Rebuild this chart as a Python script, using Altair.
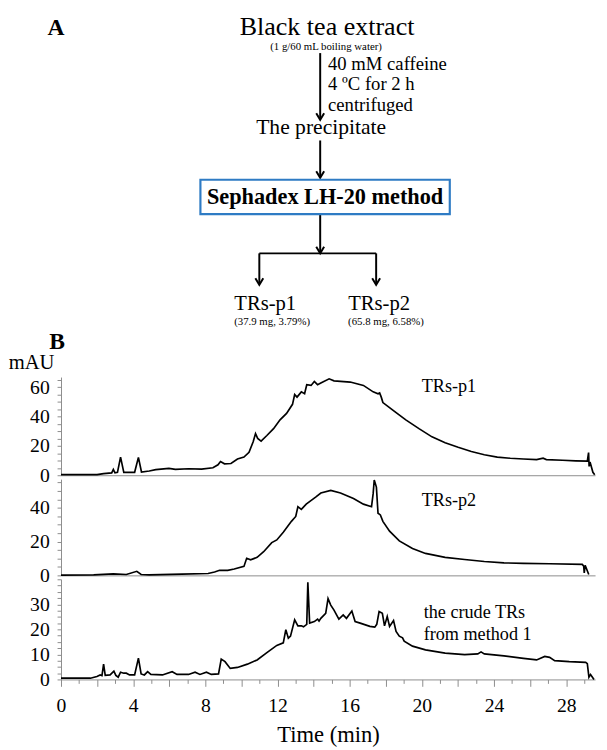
import altair as alt
import pandas as pd

FONT = "Liberation Serif"
GRAY = "#8c8c8c"
BLUE = "#2e7bc4"

# ---------------- chromatogram data (time in min, signal in mAU) ----------------
p1_time = [0, 2.0, 2.36, 2.81, 2.9, 2.99, 3.13, 3.3, 3.48, 4.08, 4.29, 4.46, 4.89, 5.25, 5.98, 6.34,
           7.07, 7.79, 8.42, 8.7, 8.84, 9.06, 9.42, 9.78, 10.14, 10.42, 10.65, 10.78, 10.9, 11.09,
           11.41, 11.78, 12.14, 12.5, 12.83, 12.95, 13.08, 13.32, 13.5, 13.62, 13.86, 14.04, 14.22,
           14.4, 14.86, 15.13, 16.03, 16.76, 17.3, 17.57, 17.66, 17.75, 17.84, 18.39, 19.11, 19.84,
           20.56, 21.29, 22.01, 22.74, 23.46, 24.18, 24.9, 25.63, 26.36, 26.72, 26.9, 27.8, 28.53,
           29.17, 29.24, 29.27, 29.32, 29.48, 29.58]
p1_mau = [0.4, 0.4, 1.1, 1.6, 4.0, 1.6, 2.0, 12.4, 2.0, 2.0, 12.2, 2.2, 2.9, 3.8, 4.7, 4.0,
          4.4, 4.2, 5.1, 7.1, 9.3, 7.8, 8.0, 11.1, 12.4, 15.6, 22.9, 28.4, 25.1, 23.3,
          27.1, 31.8, 37.8, 42.2, 48.4, 55.1, 53.3, 56.9, 55.6, 61.8, 61.3, 64.0, 61.8,
          62.9, 65.8, 64.4, 63.6, 61.3, 56.9, 55.6, 56.2, 53.3, 49.6, 44.4, 37.8, 31.8,
          26.2, 22.2, 19.1, 16.2, 14.0, 12.4, 11.6, 11.1, 10.7, 11.6, 10.7, 10.2, 9.8,
          9.6, 15.5, 6.0, 9.0, 2.0, 0.3]

p2_time = [0, 1.81, 2.9, 3.62, 4.2, 4.44, 4.89, 6.7, 8.15, 8.51, 8.79, 9.24, 9.6, 10.14, 10.29,
           10.51, 10.87, 11.23, 11.68, 11.96, 12.32, 12.77, 13.01, 13.13, 13.32, 13.59, 14.13,
           14.4, 14.95, 15.49, 16.21, 16.76, 17.21, 17.3, 17.36, 17.48, 17.57, 17.7, 17.84, 18.21,
           18.75, 19.48, 20.2, 21.29, 22.37, 23.46, 24.55, 25.63, 27.08, 28.89, 28.97, 29.0,
           29.05, 29.25]
p2_mau = [0.1, 0.3, 0.9, 0.5, 2.4, 0.5, 0.3, 0.7, 1.1, 2.0, 3.0, 3.0, 3.8, 5.3, 10.1,
          9.2, 10.7, 14.0, 19.4, 21.0, 25.6, 32.0, 34.9, 40.7, 39.1, 42.2, 46.5,
          48.8, 50.3, 48.8, 45.5, 42.2, 40.7, 48.4, 56.5, 52.3, 36.8, 35.8, 32.0, 26.2,
          20.4, 15.9, 13.0, 10.7, 9.4, 8.2, 7.4, 7.1, 6.9, 6.5, 5.5, 1.5,
          6.0, 0.5]

p3_time = [0, 1.63, 1.99, 2.17, 2.27, 2.36, 2.45, 2.72, 2.93, 3.04, 3.17, 3.3, 3.48, 3.62, 3.8,
           4.08, 4.29, 4.44, 4.62, 4.8, 4.98, 5.62, 6.16, 6.43, 7.07, 7.43, 7.7, 8.06, 8.33, 8.73,
           8.88, 9.09, 9.38, 9.78, 10.33, 10.87, 11.41, 11.96, 12.32, 12.46, 12.6, 12.72, 12.95,
           13.13, 13.32, 13.44, 13.62, 13.68, 13.78, 14.04, 14.22, 14.3, 14.4, 14.67, 14.8, 14.95,
           15.13, 15.4, 15.64, 15.82, 16.12, 16.3, 16.58, 17.12, 17.39, 17.5, 17.63, 17.81, 17.93,
           18.08, 18.21, 18.43, 18.57, 18.75, 18.93, 19.02, 19.48, 20.2, 21.29, 22.37, 23.1, 23.28,
           23.46, 24.55, 25.63, 26.36, 26.81, 27.08, 27.36, 28.17, 29.08, 29.17, 29.26, 29.35, 29.54]
p3_mau = [0.5, 0.5, 1.2, 1.8, 1.5, 6.1, 1.6, 1.8, 3.3, 1.6, 0.9, 2.9, 2.5, 2.5, 1.8,
          1.8, 8.5, 2.2, 1.8, 3.1, 2.0, 1.8, 3.1, 2.0, 2.0, 2.9, 2.0, 2.9, 2.0, 2.2,
          8.1, 7.1, 4.4, 4.8, 6.1, 7.8, 10.7, 13.6, 14.6, 19.9, 16.5, 17.3, 23.8,
          21.4, 21.4, 21.0, 22.0, 38.8, 22.5, 23.1, 24.1, 23.3, 24.4, 26.4, 32.3, 29.7,
          27.7, 24.1, 25.8, 24.4, 27.3, 23.1, 22.5, 21.2, 20.9, 22.0, 27.1, 26.4, 21.4,
          25.1, 21.2, 23.5, 19.2, 17.3, 16.6, 15.3, 13.3, 11.8, 10.5, 9.9, 10.2, 11.0,
          10.2, 9.4, 8.4, 7.8, 9.2, 8.8, 7.5, 7.1, 6.8, 6.3, 0.9, 2.0, 0.0]

# tick labels
p1_labels = [0, 20, 40, 60]
p2_labels = [0, 20, 40]
p3_labels = [0, 10, 20, 30]
x_labels = [0, 4, 8, 12, 16, 20, 24, 28]

# ---------------- flowchart content ----------------
flow_plain = [
    ("Black tea extract", 331, 28, 26.5, "center"),
    ("(1 g/60 mL boiling water)", 330, 43, 11, "center"),
    ("40 mM caffeine", 332, 63, 19, "left"),
    ("4 \u00baC for 2 h", 332, 84, 19, "left"),
    ("centrifuged", 332, 105, 19, "left"),
    ("The precipitate", 325, 128, 22, "center"),
    ("TRs-p1", 268, 308, 21, "center"),
    ("TRs-p2", 384, 308, 21, "center"),
    ("(37.9 mg, 3.79%)", 275, 323, 11, "center"),
    ("(65.8 mg, 6.58%)", 391, 323, 11, "center"),
    ("mAU", 30, 368, 21, "center"),
]
flow_bold = [
    ("A", 55, 28, 24),
    ("B", 56, 347, 24),
    ("Sephadex LH-20 method", 329, 200, 22.7),
]
flow_lines = [  # x, y, x2, y2
    (324, 46, 324, 113),
    (324, 135, 324, 172),
    (324, 210, 324, 249),
    (262, 250, 381, 250),
    (262, 250, 262, 281),
    (381, 250, 381, 281),
]
flow_heads = [(324, 114), (324, 173), (324, 250), (262, 282), (381, 282)]
flow_box = [(202, 175, 456, 210)]

W = 544
XDOM = [0, 29.6]

fx = alt.Scale(domain=[60, 604], nice=False, zero=False)
fy = alt.Scale(domain=[8, 372], nice=False, zero=False, reverse=True)

layers = []
for (txt, x, y, size, align) in flow_plain:
    d = pd.DataFrame({"x": [x], "y": [y], "t": [txt]})
    layers.append(
        alt.Chart(d).mark_text(font=FONT, fontSize=size, align=align, baseline="alphabetic", color="black")
        .encode(x=alt.X("x:Q", scale=fx, axis=None), y=alt.Y("y:Q", scale=fy, axis=None), text="t:N")
    )
for (txt, x, y, size) in flow_bold:
    d = pd.DataFrame({"x": [x], "y": [y], "t": [txt]})
    layers.append(
        alt.Chart(d).mark_text(font=FONT, fontSize=size, fontWeight="bold", align="center",
                               baseline="alphabetic", color="black")
        .encode(x=alt.X("x:Q", scale=fx, axis=None), y=alt.Y("y:Q", scale=fy, axis=None), text="t:N")
    )
ldf = pd.DataFrame(flow_lines, columns=["x", "y", "x2", "y2"])
layers.append(
    alt.Chart(ldf).mark_rule(color="black", strokeWidth=2)
    .encode(x=alt.X("x:Q", scale=fx, axis=None), y=alt.Y("y:Q", scale=fy, axis=None), x2="x2:Q", y2="y2:Q")
)
hdf = pd.DataFrame(flow_heads, columns=["x", "y"])
layers.append(
    alt.Chart(hdf).mark_point(shape="M -0.6 -1 L 0 0 L 0.6 -1", size=180, filled=False,
                              color="black", strokeWidth=2, opacity=1)
    .encode(x=alt.X("x:Q", scale=fx, axis=None), y=alt.Y("y:Q", scale=fy, axis=None))
)
bdf = pd.DataFrame(flow_box, columns=["x", "y", "x2", "y2"])
layers.append(
    alt.Chart(bdf).mark_rect(fillOpacity=0, stroke=BLUE, strokeWidth=2.2)
    .encode(x=alt.X("x:Q", scale=fx, axis=None), y=alt.Y("y:Q", scale=fy, axis=None), x2="x2:Q", y2="y2:Q")
)
flow = alt.layer(*layers).properties(width=W, height=364)


def panel(times, vals, ymax, h, ystep, ylabels, labels, bottom):
    df = pd.DataFrame({"t": times, "v": vals})
    xs = alt.Scale(domain=XDOM, nice=False, zero=False)
    ys = alt.Scale(domain=[0, ymax], nice=False, zero=True)
    nt = int(ymax // ystep) + 1
    yticks = [round(i * ystep, 3) for i in range(nt)]
    yaxis = alt.Axis(values=yticks, format="d",
                     labelExpr=f"indexof({ylabels}, datum.value) >= 0 ? datum.label : ''",
                     tickSize=4, tickColor=GRAY, domainColor=GRAY, labelPadding=8, labelFontSize=20,
                     labelFont=FONT, labelColor="black", title=None, grid=False,
                     labelOverlap=False, labelBound=False)
    if bottom:
        xticks = [i * 0.5 for i in range(60)]
        xaxis = alt.Axis(values=xticks, format="d",
                         labelExpr=f"indexof({x_labels}, datum.value) >= 0 ? datum.label : ''",
                         tickSize={"condition": {"test": "datum.value % 2 === 0", "value": 7}, "value": 4},
                         tickColor=GRAY, domainColor=GRAY, labelPadding=10, labelFontSize=20,
                         labelFont=FONT, labelColor="black", labelFlush=False, labelOverlap=False,
                         labelBound=False,
                         title="Time (min)", titleFont=FONT, titleFontSize=23, titleFontWeight="normal",
                         titleColor="black", titlePadding=8, grid=False)
    else:
        xaxis = alt.Axis(labels=False, ticks=False, title=None, domainColor=GRAY, grid=False)
    line = alt.Chart(df).mark_line(color="black", strokeWidth=1.7).encode(
        x=alt.X("t:Q", scale=xs, axis=xaxis), y=alt.Y("v:Q", scale=ys, axis=yaxis))
    parts = [line]
    for (txt, t, v, align) in labels:
        d = pd.DataFrame({"t": [t], "v": [v], "s": [txt]})
        parts.append(alt.Chart(d).mark_text(font=FONT, fontSize=18.5, align=align, baseline="alphabetic",
                                            color="black")
                     .encode(x=alt.X("t:Q", scale=xs, axis=xaxis), y=alt.Y("v:Q", scale=ys, axis=yaxis),
                             text="s:N"))
    return alt.layer(*parts).properties(width=W, height=h)


p1 = panel(p1_time, p1_mau, 67, 100, 5, p1_labels, [("TRs-p1", 21.5, 56.5, "center")], False)
p2 = panel(p2_time, p2_mau, 57, 98, 5, p2_labels, [("TRs-p2", 21.5, 41, "center")], False)
p3 = panel(p3_time, p3_mau, 40, 102, 2.5, p3_labels,
           [("the crude TRs", 20.1, 24.7, "left"), ("from method 1", 20.1, 15.7, "left")], True)

chart = (
    alt.vconcat(flow, p1, p2, p3, spacing=4, bounds="flush")
    .properties(padding=0)
    .configure_view(stroke=None)
    .configure_axis(labelFont=FONT, titleFont=FONT, titleFontWeight="normal")
)

chart.save("out.html", embed_options={"renderer": "svg", "actions": False})
